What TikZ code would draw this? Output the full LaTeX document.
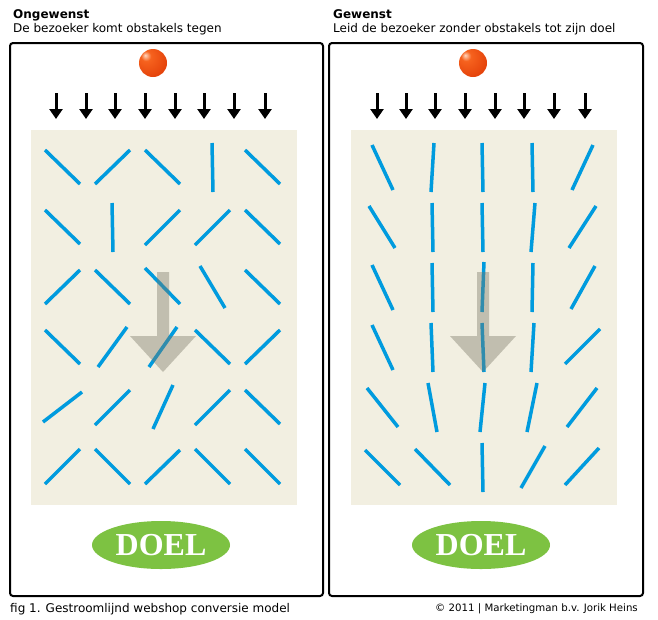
\documentclass[tikz,border=0pt]{standalone}
\usepackage{fontspec}
\setmainfont{DejaVu Sans}
\newfontfamily\doelfont{Liberation Serif}
\usetikzlibrary{arrows.meta,shapes.geometric}
\definecolor{stickblue}{RGB}{0,155,222}
\definecolor{fieldbeige}{RGB}{242,239,225}
\definecolor{doelgreen}{RGB}{125,194,66}
\definecolor{balllight}{RGB}{255,215,190}
\definecolor{ballorange}{RGB}{246,98,30}
\definecolor{ballred}{RGB}{226,62,8}
\definecolor{balldark}{RGB}{190,42,0}
\definecolor{flowgrey}{RGB}{120,118,100}
\pgfdeclareradialshading{visitorball}{\pgfpoint{-14bp}{14bp}}{%
    color(0bp)=(balllight); color(9bp)=(ballorange); color(38bp)=(ballred);
    color(60bp)=(balldark); color(80bp)=(balldark)}

\begin{document}
\begin{tikzpicture}[x=1pt,y=-1pt,
    panel/.style={line width=2pt, rounded corners=3pt},
    stick/.style={stickblue, line width=3.5pt},
    drop/.style={line width=3pt, -{Triangle[length=10pt,width=13pt]}},
    flow/.style={fill=flowgrey, fill opacity=0.4},
    doel/.style={ellipse, fill=doelgreen, text=white, minimum width=138pt,
        minimum height=48pt, inner sep=0pt,
        font=\doelfont\bfseries\fontsize{32}{32}\selectfont},
    txt/.style={inner sep=0pt, font=\fontsize{12}{14}\selectfont}]
        \useasboundingbox (0,0) rectangle (658,619);

        % Headings
        \node[txt, anchor=base west, font=\fontsize{12}{14}\selectfont\bfseries] (titleL) at (13,18) {Ongewenst};
        \node[txt, anchor=base west] (subL) at (13,32) {De bezoeker komt obstakels tegen};
        \node[txt, anchor=base west, font=\fontsize{12}{14}\selectfont\bfseries] (titleR) at (333,18) {Gewenst};
        \node[txt, anchor=base west] (subR) at (333,32) {Leid de bezoeker zonder obstakels tot zijn doel};

        % Frames and fields
        \draw[panel] (10,43) rectangle (323,596);
        \draw[panel] (329,43) rectangle (643,596);
        \fill[fieldbeige] (31,130) rectangle (297,505);
        \fill[fieldbeige] (351,130) rectangle (617,505);

        % Visitor
        \shade[shading=visitorball] (153,63) circle (14pt);
        \shade[shading=visitorball] (473,63) circle (14pt);

        % Entry arrows
        \foreach \x in {56,86,115,145,175,204,234,265}
            \draw[drop] (\x,93) -- (\x,119);
        \foreach \x in {377,406,435,465,495,524,554,585}
            \draw[drop] (\x,93) -- (\x,119);

        % Obstacles, left field
        \draw[stick] (45,150) -- (80,184) (95,184) -- (130,150) (145,150) -- (180,184)
            (212,143) -- (213,192) (245,150) -- (280,184);
        \draw[stick] (45,210) -- (80,244) (112,203) -- (113,252) (145,245) -- (180,210)
            (195,245) -- (230,210) (245,210) -- (280,244);
        \draw[stick] (45,304) -- (80,270) (95,270) -- (130,304) (145,268) -- (180,304)
            (200,266) -- (225,308) (245,270) -- (280,304);
        \draw[stick] (45,330) -- (80,364) (98,367) -- (127,327) (149,367) -- (177,327)
            (195,330) -- (230,364) (245,364) -- (280,330);
        \draw[stick] (43,422) -- (82,392) (95,425) -- (130,390) (153,429) -- (173,385)
            (195,425) -- (230,390) (245,390) -- (280,424);
        \draw[stick] (45,484) -- (80,449) (95,449) -- (130,484) (145,484) -- (180,450)
            (195,449) -- (230,484) (245,449) -- (280,484);

        % Guides, right field
        \draw[stick] (372,145) -- (393,190) (434,143) -- (431,192) (482,143) -- (483,192)
            (532,143) -- (533,192) (593,145) -- (572,190);
        \draw[stick] (369,206) -- (395,248) (432,203) -- (433,252) (482,203) -- (483,252)
            (535,203) -- (531,252) (596,206) -- (569,248);
        \draw[stick] (372,265) -- (393,310) (432,263) -- (433,312) (484,262) -- (482,312)
            (533,263) -- (532,312) (595,266) -- (571,309);
        \draw[stick] (372,325) -- (393,370) (431,323) -- (433,372) (482,323) -- (484,372)
            (534,323) -- (531,372) (600,329) -- (565,364);
        \draw[stick] (367,388) -- (398,427) (428,383) -- (437,432) (485,383) -- (480,432)
            (537,383) -- (527,432) (597,388) -- (567,427);
        \draw[stick] (365,450) -- (400,485) (415,449) -- (450,485) (482,443) -- (483,492)
            (545,446) -- (521,488) (599,448) -- (565,485);

        % Flow direction
        \fill[flow] (157,272) -- (169,272) -- (169,336) -- (196,336) -- (163,372)
            -- (130,336) -- (157,336) -- cycle;
        \fill[flow] (477,272) -- (489,272) -- (489,336) -- (516,336) -- (483,372)
            -- (450,336) -- (477,336) -- cycle;

        % Goal
        \node[doel] (doelL) at (161,545) {DOEL};
        \node[doel] (doelR) at (481,545) {DOEL};

        % Footer
        \node[txt, anchor=base west] (figcap) at (10,612) {fig 1. Gestroomlijnd webshop conversie model};
        \node[txt, anchor=base east, font=\fontsize{10.2}{12}\selectfont] (credit) at (638,611) {© 2011 | Marketingman b.v. Jorik Heins};
    \end{tikzpicture}
\end{document}
